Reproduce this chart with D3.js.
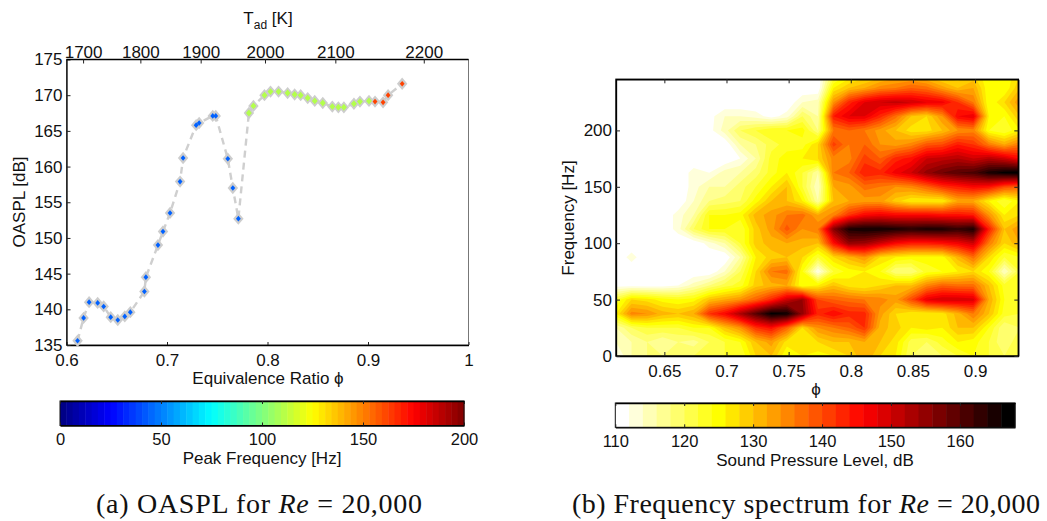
<!DOCTYPE html>
<html>
<head>
<meta charset="utf-8">
<script src="https://cdn.jsdelivr.net/npm/d3@7"></script>
<style>
  html, body { margin: 0; padding: 0; background: #fff; }
  text { font-family: "Liberation Sans", Arial, sans-serif; fill: #111; }
  .caption { font-family: "Liberation Serif", "Times New Roman", serif; }
  .domain { stroke: #000; stroke-width: 1.3; }
  .tick line { stroke: #222; }
</style>
</head>
<body>
<svg id="fig" width="1047" height="521"></svg>
<script>
// Left panel: OASPL against equivalence ratio, coloured by peak frequency
const phi = [.611, .617, .6225, .631, .637, .644, .651, .658, .6635, .6775, .679, .691, .696, .703, .713, .716,
  .729, .732, .7455, .7485, .7605, .7655, .771,
  .7815, .786, .797, .803, .811, .82, .827, .833, .84, .847, .855, .8645, .8705, .876, .886, .892, .901,
  .907, .915, .92, .934];
const oaspl = [135.6, 138.8, 141, 140.9, 140.4, 138.9, 138.5, 139, 139.6, 142.5, 144.5, 149, 150.9, 153.5, 157.9, 161.2,
  165.8, 166.1, 167.1, 167.1, 161.1, 157, 152.7,
  167.5, 168.5, 170, 170.5, 170.5, 170.3, 170.1, 170, 169.6, 169.2, 168.9, 168.4, 168.3, 168.3, 168.8, 169.1, 169.2,
  169.1, 169, 170, 171.6];
const peakFreq = [44, 44, 44, 44, 44, 44, 44, 44, 44, 44, 44, 44, 44, 44, 44, 44,
  44, 44, 44, 44, 44, 44, 44,
  110, 110, 110, 110, 110, 110, 110, 110, 110, 110, 110, 110, 110, 110, 110, 110, 110,
  162, 162, 162, 162];
const phiTicks = [0.6, 0.7, 0.8, 0.9, 1];
const oasplTicks = [135, 140, 145, 150, 155, 160, 165, 170, 175];
const tadTicks = [1700, 1800, 1900, 2000, 2100, 2200];
const tadAtPhi = [.617, .674, .734, .798, .868, .956]; // top axis is not linear in phi
const peakTicks = [0, 50, 100, 150, 200];

// Right panel: spectrum map, rows run from high to low frequency
const specPhi = d3.range(27).map(i => .6111 + i * .0125);
const specFreq = d3.range(21).map(i => 250 - i * 12.5);
const spl = [
  [110,110,110,110,110,110,110,110,110,110,110,110,110,110,120,124,126,128,130,130,128,126,126,128,124,124,128],
  [110,110,110,110,110,110,110,110,110,110,110,110,110,110,126,130,132,135,136,138,137,133,130,132,124,124,130],
  [110,110,110,110,110,110,110,110,110,110,110,110,114,115,134,143,148,150,151,150,148,147,142,136,124,128,134],
  [110,110,110,110,110,110,111,114,114,113,111,113,120,116,144,148,148,143,137,130,128,134,146,148,126,124,130],
  [110,110,110,110,110,110,111,115,120,122,124,124,125,118,136,138,136,133,130,127,127,130,134,135,124,122,126],
  [110,110,110,110,110,110,110,110,116,118,121,123,123,128,141,136,138,134,133,135,139,140,144,142,136,132,136],
  [110,110,110,110,110,110,110,110,112,116,123,125,126,128,135,135,141,138,143,145,150,151,152,150,152,150,146],
  [110,110,110,110,110,113,112,115,116,119,123,126,122,116,136,138,144,143,147,150,155,158,160,161,165,167,168],
  [110,110,110,110,110,113,116,116,119,122,126,130,122,114,132,133,137,136,134,135,138,142,144,146,145,140,138],
  [110,110,110,110,110,114,118,119,120,125,130,130,126,116,130,132,133,133,129,126,126,126,132,132,126,122,126],
  [110,110,110,110,113,116,124,124,125,131,133,136,137,132,135,142,146,147,146,146,146,145,145,144,134,126,128],
  [110,110,110,110,113,120,124,124,122,129,133,139,134,136,156,165,166,166,165,164,165,165,163,165,144,130,134],
  [110,110,110,110,110,110,113,116,122,129,131,132,131,130,145,155,154,150,146,144,144,145,147,150,136,128,132],
  [110,113,110,110,110,110,110,110,116,126,129,130,128,122,128,131,134,128,126,125,125,125,131,137,128,122,124],
  [110,110,110,110,110,110,110,114,120,128,136,137,124,112,122,125,126,124,118,118,123,124,126,128,124,114,122],
  [111,111,111,111,112,115,118,121,123,129,131,132,124,126,130,127,126,128,130,130,135,138,137,137,130,123,122],
  [122,128,127,125,124,125,130,132,134,138,143,150,154,140,138,137,136,135,133,140,148,150,150,149,132,124,124],
  [126,135,134,131,130,132,142,146,153,160,167,166,155,143,146,143,143,133,128,126,126,127,131,136,130,123,122],
  [116,120,122,122,122,124,124,130,134,142,145,138,128,134,136,138,142,131,129,126,127,126,130,130,124,118,120],
  [114,116,118,116,118,117,120,122,124,130,133,127,126,128,130,130,132,130,127,121,120,123,126,125,122,118,122],
  [112,116,118,118,118,120,120,122,122,128,130,124,126,125,126,128,132,128,126,120,118,120,122,124,122,120,120]
];
const specPhiTicks = [0.65, 0.7, 0.75, 0.8, 0.85, 0.9];
const specFreqTicks = [0, 50, 100, 150, 200];
const splLevels = d3.range(110, 168, 2);
const splTicks = [110, 120, 130, 140, 150, 160];

const svg = d3.select('#fig');

// colormaps (MATLAB jet and hot)
const clamp01 = v => Math.max(0, Math.min(1, v));
function jet(t) {
  const r = clamp01(Math.min(4 * t - 1.5, -4 * t + 4.5));
  const g = clamp01(Math.min(4 * t - 0.5, -4 * t + 3.5));
  const b = clamp01(Math.min(4 * t + 0.5, -4 * t + 2.5));
  return d3.rgb(r * 255, g * 255, b * 255).formatHex();
}
function hot(t) {
  const r = clamp01(t / .375);
  const g = clamp01((t - .375) / .375);
  const b = clamp01((t - .75) / .25);
  return d3.rgb(r * 255, g * 255, b * 255).formatHex();
}
const splColor = l => hot(1 - (l - 110) / 56);

function label(x, y, txt, size, opts = {}) {
  const t = svg.append('text')
    .attr('x', x).attr('y', y)
    .attr('text-anchor', opts.anchor || 'middle')
    .attr('font-size', size)
    .text(txt);
  if (opts.rotate) t.attr('transform', `rotate(${opts.rotate},${x},${y})`);
  return t;
}

function styleAxis(g, size) {
  g.selectAll('text').attr('font-size', size);
  return g;
}

// ---- left panel ----
const L = { l: 66.5, r: 468.5, t: 59.5, b: 345 };
const xL = d3.scaleLinear().domain([0.6, 1]).range([L.l, L.r]);
const yL = d3.scaleLinear().domain([135, 175]).range([L.b, L.t]);
const xTad = d3.scaleOrdinal().domain(tadTicks).range(tadAtPhi.map(xL));

svg.append('rect')
  .attr('x', L.l).attr('y', L.t).attr('width', L.r - L.l).attr('height', L.b - L.t)
  .attr('fill', 'none').attr('stroke', '#777').attr('stroke-width', 1);

styleAxis(svg.append('g').attr('transform', `translate(0,${L.b})`)
  .call(d3.axisBottom(xL).tickValues(phiTicks).tickFormat(d3.format('')).tickSize(-3).tickSizeOuter(0).tickPadding(9)), 17);
styleAxis(svg.append('g').attr('transform', `translate(${L.l},0)`)
  .call(d3.axisLeft(yL).tickValues(oasplTicks).tickSize(-4).tickSizeOuter(0).tickPadding(4)), 17);

const topAxis = svg.append('g').attr('transform', `translate(0,${L.t})`);
topAxis.append('line').attr('x1', L.l).attr('x2', L.r).attr('stroke', '#000').attr('stroke-width', 1.3);
const topTick = topAxis.selectAll('g').data(tadTicks).join('g')
  .attr('transform', d => `translate(${xTad(d)},0)`);
topTick.append('line').attr('y2', 4).attr('stroke', '#222');
topTick.append('text').attr('y', -2).attr('text-anchor', 'middle').attr('font-size', 17).text(d => d);

const tLabel = label(268, 24, 'T', 17);
tLabel.append('tspan').attr('dy', 5).attr('font-size', 12).text('ad');
tLabel.append('tspan').attr('dy', -5).text(' [K]');

label(268, 384, 'Equivalence Ratio \u03D5', 17);
label(25, 202, 'OASPL [dB]', 17, { rotate: -90 });

// dashed guide under the markers
const linePath = d3.line().x((d, i) => xL(phi[i])).y((d, i) => yL(oaspl[i]));
svg.append('path').datum(phi)
  .attr('d', linePath)
  .attr('fill', 'none').attr('stroke', '#cfcfcf').attr('stroke-width', 2.4)
  .attr('stroke-dasharray', '7,5');

const diamond = { draw(ctx, size) {
  const h = Math.sqrt(size);
  const w = h * .85;
  ctx.moveTo(0, -h); ctx.lineTo(w, 0); ctx.lineTo(0, h); ctx.lineTo(-w, 0); ctx.closePath();
} };
const sym = d3.symbol().type(diamond);

svg.append('g').selectAll('path').data(phi).join('path')
  .attr('transform', (d, i) => `translate(${xL(phi[i])},${yL(oaspl[i])})`)
  .attr('d', sym.size(38)())
  .attr('fill', '#cdcdcd');
svg.append('g').selectAll('path').data(phi).join('path')
  .attr('transform', (d, i) => `translate(${xL(phi[i])},${yL(oaspl[i])})`)
  .attr('d', (d, i) => sym.size(peakFreq[i] > 100 && peakFreq[i] < 150 ? 12 : 8)())
  .attr('fill', (d, i) => jet(peakFreq[i] / 200));

// left colorbar, 64 steps
const cbL = { l: 60, r: 464, t: 401, b: 425.5 };
const xCbL = d3.scaleLinear().domain([0, 200]).range([cbL.l, cbL.r]);
const jetSteps = d3.range(64).map(i => i * 200 / 64);
svg.append('g').selectAll('rect').data(jetSteps).join('rect')
  .attr('x', d => xCbL(d)).attr('y', cbL.t)
  .attr('width', xCbL(200 / 64) - xCbL(0) + .5).attr('height', cbL.b - cbL.t)
  .attr('fill', d => jet((d + 100 / 64) / 200));
svg.append('rect').attr('x', cbL.l).attr('y', cbL.t).attr('width', cbL.r - cbL.l).attr('height', cbL.b - cbL.t)
  .attr('fill', 'none').attr('stroke', '#111').attr('stroke-width', 1);
styleAxis(svg.append('g').attr('transform', `translate(0,${cbL.b})`)
  .call(d3.axisBottom(xCbL).tickValues(peakTicks).tickSize(-3).tickSizeOuter(0).tickPadding(8)), 16.5);
svg.append('g').attr('transform', `translate(0,${cbL.t})`)
  .call(d3.axisTop(xCbL).tickValues(peakTicks).tickSize(-3).tickSizeOuter(0).tickFormat(''));
label(262, 464, 'Peak Frequency [Hz]', 17);

// ---- right panel ----
const R = { l: 616, r: 1018.3, t: 79.3, b: 356 };
const xR = d3.scaleLinear().domain([.6111, .9348]).range([R.l, R.r]);
const yR = d3.scaleLinear().domain([0, 245.3]).range([R.b, R.t]);
const phiAt = d3.scaleLinear().domain([0, specPhi.length - 1]).range([specPhi[0], specPhi[specPhi.length - 1]]);
const freqAt = d3.scaleLinear().domain([0, specFreq.length - 1]).range([specFreq[0], specFreq[specFreq.length - 1]]);

svg.append('clipPath').attr('id', 'specClip').append('rect')
  .attr('x', R.l).attr('y', R.t).attr('width', R.r - R.l).attr('height', R.b - R.t);

const nx = specPhi.length, ny = specFreq.length;
const bands = d3.contours().size([nx, ny]).smooth(true)
  .thresholds(splLevels.slice(1))(spl.flat());
const toPlot = d3.geoTransform({ point(x, y) {
  this.stream.point(xR(phiAt(x - .5)), yR(freqAt(y - .5)));
} });
svg.append('g').attr('clip-path', 'url(#specClip)')
  .selectAll('path').data(bands).join('path')
  .attr('d', d3.geoPath(toPlot))
  .attr('fill', d => splColor(d.value));

svg.append('rect').attr('x', R.l).attr('y', R.t).attr('width', R.r - R.l).attr('height', R.b - R.t)
  .attr('fill', 'none').attr('stroke', '#000').attr('stroke-width', 1.4);
styleAxis(svg.append('g').attr('transform', `translate(0,${R.b})`)
  .call(d3.axisBottom(xR).tickValues(specPhiTicks).tickFormat(d3.format('')).tickSize(-4).tickSizeOuter(0).tickPadding(9)), 17);
styleAxis(svg.append('g').attr('transform', `translate(${R.l},0)`)
  .call(d3.axisLeft(yR).tickValues(specFreqTicks).tickSize(-4).tickSizeOuter(0).tickPadding(4)), 17);
svg.append('g').attr('transform', `translate(0,${R.t})`)
  .call(d3.axisTop(xR).tickValues(specPhiTicks).tickSize(-4).tickSizeOuter(0).tickFormat(''));
svg.append('g').attr('transform', `translate(${R.r},0)`)
  .call(d3.axisRight(yR).tickValues(specFreqTicks).tickSize(-4).tickSizeOuter(0).tickFormat(''));

label(816, 395, '\u03D5', 17);
label(574, 218, 'Frequency [Hz]', 17, { rotate: -90 });

// right colorbar
const cbR = { l: 615.3, r: 1015, t: 403, b: 427.3 };
const xCbR = d3.scaleLinear().domain([110, 168]).range([cbR.l, cbR.r]);
svg.append('g').selectAll('rect').data(splLevels).join('rect')
  .attr('x', d => xCbR(d)).attr('y', cbR.t)
  .attr('width', xCbR(112) - xCbR(110) + .5).attr('height', cbR.b - cbR.t)
  .attr('fill', d => splColor(d));
svg.append('rect').attr('x', cbR.l).attr('y', cbR.t).attr('width', cbR.r - cbR.l).attr('height', cbR.b - cbR.t)
  .attr('fill', 'none').attr('stroke', '#111').attr('stroke-width', 1);
styleAxis(svg.append('g').attr('transform', `translate(0,${cbR.b})`)
  .call(d3.axisBottom(xCbR).tickValues(splTicks).tickSize(-3).tickSizeOuter(0).tickPadding(8)), 16.5);
svg.append('g').attr('transform', `translate(0,${cbR.t})`)
  .call(d3.axisTop(xCbR).tickValues(splTicks).tickSize(-3).tickSizeOuter(0).tickFormat(''));
label(815, 466, 'Sound Pressure Level, dB', 17);

// captions, stretched to the width of the originals
function caption(x, width, before) {
  const t = svg.append('text').attr('class', 'caption').attr('x', x).attr('y', 513)
    .attr('font-size', 28).attr('text-anchor', 'start')
    .attr('textLength', width).attr('lengthAdjust', 'spacing');
  t.append('tspan').text(before + ' ');
  t.append('tspan').attr('font-style', 'italic').text('Re');
  t.append('tspan').text(' = 20,000');
}
caption(96, 326, '(a) OASPL for');
caption(572, 468, '(b) Frequency spectrum for');
</script>
</body>
</html>
